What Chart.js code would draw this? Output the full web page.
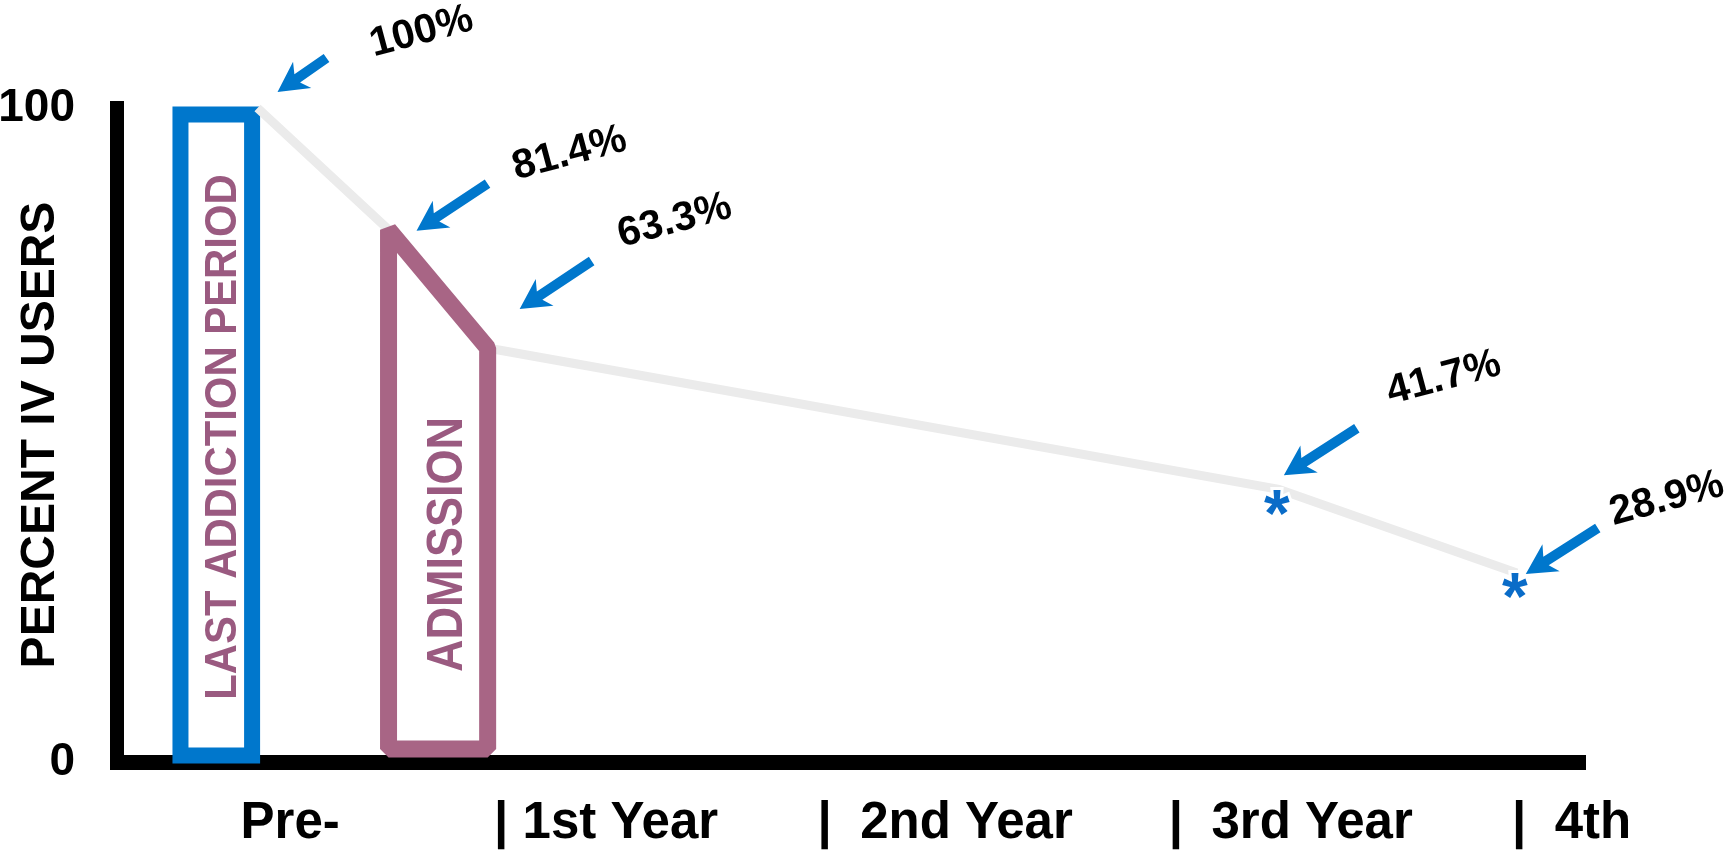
<!DOCTYPE html>
<html>
<head>
<meta charset="utf-8">
<script src="https://cdn.jsdelivr.net/npm/chart.js@4/dist/chart.umd.min.js"></script>
<style>
  html, body { margin: 0; padding: 0; background: #ffffff; }
  #wrap { width: 1732px; height: 856px; position: relative; }
</style>
</head>
<body>
<div id="wrap"><canvas id="chart"></canvas></div>
<script>
// ---------------- data ----------------
// time axis in years relative to admission (0 = admission)
const timePoints   = [-0.716, -0.330, -0.038, 2.293, 2.994];
const percentIV    = [100, 81.4, 63.3, 41.7, 28.9];
const significant  = [false, false, false, true, true];

const xTickPositions = [-0.766, -0.019, 0.934, 1.969, 2.980];
const xTickLabels    = ['Pre-', '| 1st Year', '|  2nd Year', '|  3rd Year', '|  4th'];
const yTickValues    = [0, 100];
const yTickLabels    = ['0', '100'];

const addictionPeriodX = [-0.943, -0.732];
const addictionPeriodY = [1, 99];
const admissionBase    = 2;
const periodLabels     = ['LAST ADDICTION PERIOD', 'ADMISSION'];
const yAxisTitle       = 'PERCENT IV USERS';

// ---------------- styling ----------------
const FONT = '"Liberation Sans", Arial, Helvetica, sans-serif';
const BLUE = '#0077CC';
const MAUVE_LINE = '#A86585';
const MAUVE_TEXT = '#9A5A80';
const GREY_LINE = '#EBEBEB';

// callout geometry relative to each point (pixels): arrow tip, arrow tail, label centre
const callouts = [
  { tip: [20, -16], tail: [69, -50],  label: [164, -76] },
  { tip: [28, 1],   tail: [99, -46],  label: [181, -76] },
  { tip: [32, -39], tail: [104, -87], label: [187, -127] },
  { tip: [5, -14],  tail: [78, -61],  label: [165, -111] },
  { tip: [9, 1],    tail: [81, -45],  label: [150, -74] }
];

// ---------------- derived datasets ----------------
const mainLine = timePoints.map((t, i) => ({ x: t, y: percentIV[i] }));

const admissionShape = [
  { x: (timePoints[1] + timePoints[2]) / 2, y: admissionBase },
  { x: timePoints[1], y: admissionBase },
  { x: timePoints[1], y: percentIV[1] },
  { x: timePoints[2], y: percentIV[2] },
  { x: timePoints[2], y: admissionBase },
  { x: (timePoints[1] + timePoints[2]) / 2, y: admissionBase }
];

const yMid = (addictionPeriodY[0] + addictionPeriodY[1]) / 2;
const periodBox = [
  { x: addictionPeriodX[0], y: yMid },
  { x: addictionPeriodX[0], y: addictionPeriodY[1] },
  { x: addictionPeriodX[1], y: addictionPeriodY[1] },
  { x: addictionPeriodX[1], y: addictionPeriodY[0] },
  { x: addictionPeriodX[0], y: addictionPeriodY[0] },
  { x: addictionPeriodX[0], y: yMid }
];

function fmtPct(v) { return (Number.isInteger(v) ? String(v) : v.toFixed(1)) + '%'; }

function drawArrow(ctx, sx, sy, tx, ty, color) {
  const ang = Math.atan2(ty - sy, tx - sx);
  const L = Math.hypot(tx - sx, ty - sy);
  const headLen = 30, headHalf = 16, shaftHalf = 5, notch = 24;
  ctx.save();
  ctx.translate(tx, ty);
  ctx.rotate(ang);
  ctx.beginPath();
  ctx.moveTo(0, 0);
  ctx.lineTo(-headLen, headHalf);
  ctx.lineTo(-notch, shaftHalf);
  ctx.lineTo(-L, shaftHalf);
  ctx.lineTo(-L, -shaftHalf);
  ctx.lineTo(-notch, -shaftHalf);
  ctx.lineTo(-headLen, -headHalf);
  ctx.closePath();
  ctx.fillStyle = color;
  ctx.fill();
  ctx.restore();
}

function drawVertical(ctx, text, cx, cy, font, color, squeeze) {
  ctx.save();
  ctx.translate(cx, cy);
  ctx.rotate(-Math.PI / 2);
  ctx.scale(squeeze, 1);
  ctx.font = font;
  ctx.fillStyle = color;
  ctx.textAlign = 'center';
  ctx.textBaseline = 'middle';
  ctx.fillText(text, 0, 0);
  ctx.restore();
}

const calloutPlugin = {
  id: 'callouts',
  afterDatasetsDraw(chart) {
    const { ctx } = chart;
    const xs = chart.scales.x, ys = chart.scales.y;
    ctx.save();

    // vertical labels inside the period shapes
    const boxCx = (xs.getPixelForValue(addictionPeriodX[0]) + xs.getPixelForValue(addictionPeriodX[1])) / 2 + 7;
    drawVertical(ctx, periodLabels[0], boxCx, ys.getPixelForValue(yMid) + 2, 'bold 45px ' + FONT, MAUVE_TEXT, 0.93);
    const admCx = (xs.getPixelForValue(timePoints[1]) + xs.getPixelForValue(timePoints[2])) / 2 + 10;
    drawVertical(ctx, periodLabels[1], admCx, ys.getPixelForValue((admissionBase + percentIV[2]) / 2) - 4, 'bold 50px ' + FONT, MAUVE_TEXT, 0.9);

    const meta = chart.getDatasetMeta(1);
    meta.data.forEach((pt, i) => {
      const o = callouts[i];
      // significance asterisk
      if (significant[i]) {
        ctx.font = 'bold 66px ' + FONT;
        ctx.textAlign = 'center';
        ctx.textBaseline = 'alphabetic';
        const m = ctx.measureText('*');
        const cx = pt.x - 2, cy = pt.y + 13;
        const base = cy + (m.actualBoundingBoxAscent - m.actualBoundingBoxDescent) / 2;
        ctx.lineWidth = 6;
        ctx.strokeStyle = '#ffffff';
        ctx.strokeText('*', cx, base);
        ctx.fillStyle = '#0A6CC8';
        ctx.fillText('*', cx, base);
      }
      drawArrow(ctx, pt.x + o.tail[0], pt.y + o.tail[1], pt.x + o.tip[0], pt.y + o.tip[1], BLUE);
      ctx.save();
      ctx.translate(pt.x + o.label[0], pt.y + o.label[1]);
      ctx.rotate(-15 * Math.PI / 180);
      ctx.font = 'bold 41px ' + FONT;
      ctx.fillStyle = '#000000';
      ctx.textAlign = 'center';
      ctx.textBaseline = 'middle';
      ctx.fillText(fmtPct(percentIV[i]), 0, 0);
      ctx.restore();
    });
    ctx.restore();
  }
};

new Chart(document.getElementById('chart'), {
  type: 'line',
  data: {
    datasets: [
      {
        label: periodLabels[1],
        data: admissionShape,
        borderColor: MAUVE_LINE,
        borderWidth: 17,
        borderJoinStyle: 'bevel',
        borderCapStyle: 'butt',
        pointRadius: 0,
        fill: false,
        tension: 0,
        clip: false
      },
      {
        label: yAxisTitle,
        data: mainLine,
        borderColor: GREY_LINE,
        borderWidth: 9,
        borderJoinStyle: 'miter',
        borderCapStyle: 'butt',
        pointRadius: 0,
        fill: false,
        tension: 0,
        clip: false
      },
      {
        label: periodLabels[0],
        data: periodBox,
        borderColor: BLUE,
        borderWidth: 16,
        borderJoinStyle: 'miter',
        borderCapStyle: 'butt',
        pointRadius: 0,
        fill: false,
        tension: 0,
        clip: false
      }
    ]
  },
  options: {
    responsive: true,
    maintainAspectRatio: false,
    devicePixelRatio: 1,
    animation: false,
    layout: { padding: { left: 0, top: 108, right: 147, bottom: 0 } },
    plugins: {
      legend: { display: false },
      tooltip: { enabled: false }
    },
    scales: {
      x: {
        type: 'linear',
        min: -1.13,
        max: 3.195,
        afterBuildTicks: s => { s.ticks = xTickPositions.map(v => ({ value: v })); },
        afterFit: s => { s.height = 94; },
        grid: { display: false, drawTicks: false },
        border: { display: true, color: '#000000', width: 15 },
        ticks: {
          autoSkip: false,
          maxRotation: 0,
          minRotation: 0,
          align: 'start',
          padding: 31,
          color: '#000000',
          font: { family: FONT, size: 51, weight: 'bold', lineHeight: 1.2 },
          callback: (v, i) => xTickLabels[i]
        }
      },
      y: {
        type: 'linear',
        min: 0,
        max: 100,
        afterBuildTicks: s => { s.ticks = yTickValues.map(v => ({ value: v })); },
        afterFit: s => { s.width = 117; },
        grid: { display: false, drawTicks: false },
        border: { display: true, color: '#000000', width: 14 },
        ticks: {
          padding: 42,
          color: '#000000',
          font: { family: FONT, size: 46, weight: 'bold' },
          callback: (v, i) => yTickLabels[i]
        },
        title: {
          display: true,
          text: yAxisTitle,
          color: '#000000',
          font: { family: FONT, size: 48, weight: 'bold', lineHeight: 1.0 },
          padding: { top: 17, bottom: 0 }
        }
      }
    }
  },
  plugins: [calloutPlugin]
});
</script>
</body>
</html>
